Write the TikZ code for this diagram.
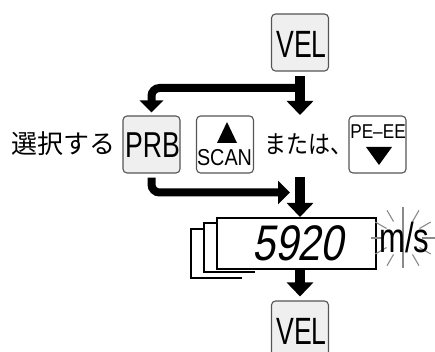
\documentclass[tikz,border=0pt]{standalone}
\usepackage{fontspec}
\usepackage{graphicx}
\setmainfont{Liberation Sans}
\newfontfamily\jpfont{Noto Sans CJK JP}
\newfontfamily\segfont{Liberation Sans}[FakeSlant=0.22]
\usetikzlibrary{arrows.meta}
\newcommand{\condtxt}[3]{\scalebox{#1}[1]{\fontsize{#2}{#2}\selectfont #3}}
\definecolor{btnfill}{HTML}{EFEFEF}
\definecolor{btnline}{HTML}{555555}
\definecolor{raygray}{HTML}{8A8A8A}
\tikzset{
  btn/.style={draw=btnline, line width=1.1pt, rounded corners=4pt, minimum width=57pt, minimum height=57pt, inner sep=0pt},
  btngray/.style={btn, fill=btnfill},
  btnwhite/.style={btn, fill=white},
  bigarrow/.style={line width=10pt, -{Triangle[width=26pt,length=14pt]}},
  brarrow/.style={line width=8pt, rounded corners=8pt, -{Triangle[width=23pt,length=12pt]}},
  frameline/.style={line width=1.8pt},
  jptext/.style={inner sep=0pt, font=\jpfont\fontsize{26}{26}\selectfont},
  ray/.style={draw=raygray, line width=1.1pt}
}
\begin{document}
\begin{tikzpicture}[x=1pt,y=-1pt]
\useasboundingbox (0,0) rectangle (435,352);
\clip (0,0) rectangle (435,352);
% buttons
\node[btngray] (vel1) at (300,42.5) {};
\node at (301.5,44.5) {\condtxt{0.7}{38}{VEL}};
\node[btngray] (prb) at (151.5,144.5) {};
\node at (152.5,145) {\condtxt{0.74}{36}{PRB}};
\node[btnwhite] (scan) at (225,144.5) {};
\node[inner sep=0pt] (scantxt) at (224.5,157.5) {\condtxt{0.86}{23}{SCAN}};
\fill (227,122) -- (237,143) -- (217,143) -- cycle;
\node[btnwhite] (peee) at (377.5,144.5) {};
\node[inner sep=0pt] (peetxt) at (378,131.5) {\condtxt{0.86}{20}{PE–EE}};
\fill (366,147) -- (392,147) -- (379,165) -- cycle;
% texts
\node[jptext] (sel) at (63.5,144) {選択する};
\node[inner sep=0pt, anchor=west] (mata) at (264,144) {\scalebox{0.88}[1]{\jpfont\fontsize{25}{25}\selectfont または、}};
% display
\draw[frameline] (217,223) -- (204,223) -- (204,272) -- (255,272);
\draw[frameline] (204,229) -- (191,229) -- (191,278) -- (242,278);
\draw[line width=2pt, fill=white] (217,218) rectangle (376,269);
\coordinate (disp) at (300,243.5);
\node[inner sep=0pt] (digits) at (298,243.5) {\scalebox{0.82}[1]{\segfont\fontsize{50}{50}\selectfont 5920}};
% sparkle
\foreach \a in {0,30,60,120,150,180,210,240,300,330}
  \draw[ray] (403,238) ++(\a:19) -- ++(\a:13);
\draw[ray] (403,207) -- (403,268);
\node[inner sep=0pt, anchor=west] (units) at (379,237) {\condtxt{0.74}{42}{m/s}};
\node[btngray] (vel2) at (300,329.5) {};
\node at (301.5,331.5) {\condtxt{0.7}{38}{VEL}};
% connectors
\coordinate (t1) at (300,115);
\coordinate (b1) at (300,88);
\coordinate (s2) at (300,177);
\coordinate (t3) at (290,192.5);
\draw[bigarrow] ([yshift=-4pt]vel1.south) -- (t1);
\draw[brarrow] (b1) -| ([yshift=3pt]prb.north);
\draw[brarrow] ([yshift=-4pt]prb.south) |- (t3);
\draw[bigarrow] (s2) -- (300,217);
\draw[bigarrow] (300,269) -- ([yshift=4pt]vel2.north);
\end{tikzpicture}
\end{document}
